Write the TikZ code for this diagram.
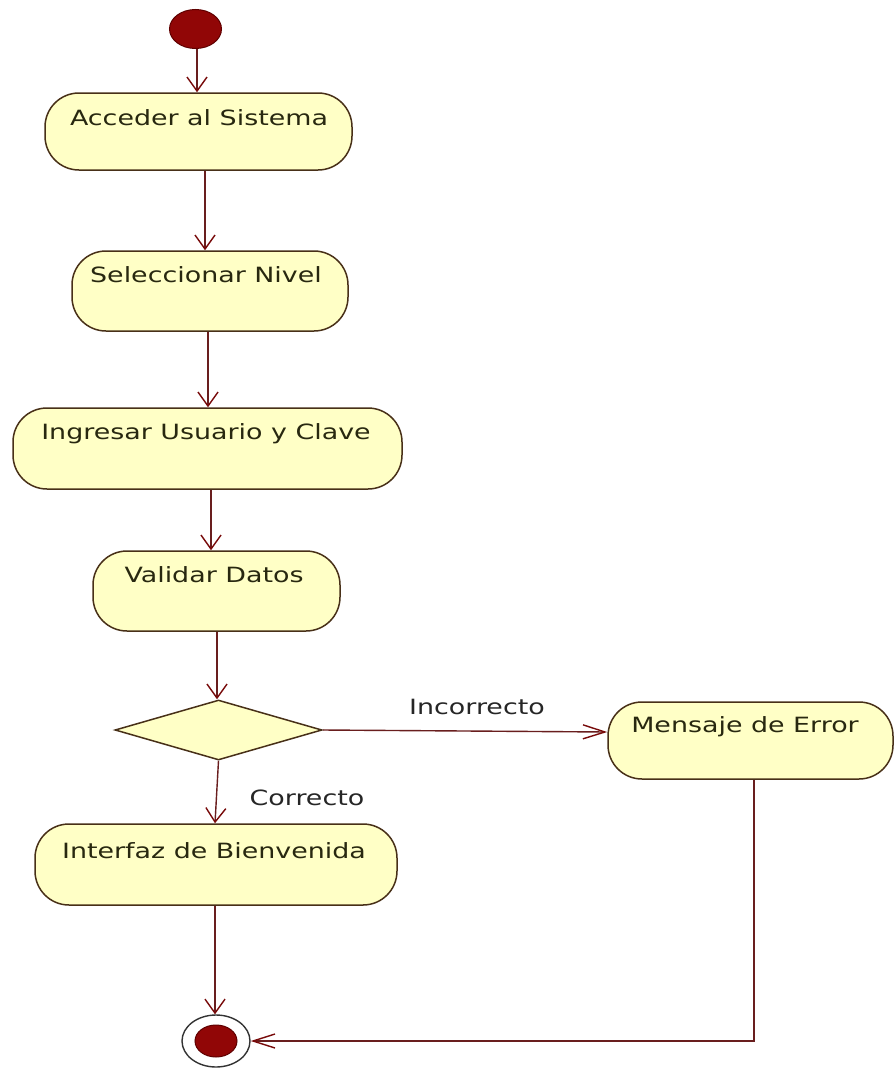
\documentclass[tikz,border=0pt]{standalone}
\usepackage{fontspec}
\setmainfont{DejaVu Sans}[FakeStretch=1.28]
\usetikzlibrary{arrows.meta,shapes.geometric}

\definecolor{actfill}{RGB}{255,255,198}
\definecolor{actline}{RGB}{72,48,24}
\definecolor{flowline}{RGB}{105,30,30}
\definecolor{tipcol}{RGB}{120,10,10}
\definecolor{dotfill}{RGB}{145,6,6}
\definecolor{dotline}{RGB}{95,0,0}
\definecolor{acttext}{RGB}{40,40,16}

\tikzset{
  act/.style={draw=actline, fill=actfill, line width=1.5pt, rounded corners=34pt,
    rectangle, inner sep=0pt},
  choice/.style={draw=actline, fill=actfill, line width=1.5pt, diamond, inner sep=0pt},
  acttxt/.style={anchor=base, inner sep=0pt, text=acttext, font=\fontsize{21}{24}\selectfont},
  guard/.style={anchor=base, inner sep=0pt, text=black!85, font=\fontsize{21}{24}\selectfont},
  vflow/.style={draw=flowline, line width=1.4pt,
    -{Straight Barb[length=14pt,width=20pt,line width=1.4pt,color=tipcol]}},
  hflow/.style={draw=flowline, line width=1.4pt,
    -{Straight Barb[length=22pt,width=14pt,line width=1.4pt,color=tipcol]}},
  startdot/.style={ellipse, fill=dotfill, draw=dotline, line width=1pt, inner sep=0pt},
  endring/.style={ellipse, draw=black!80, fill=white, line width=1.4pt, inner sep=0pt},
}

\begin{document}
\begin{tikzpicture}[x=1pt,y=-1pt]
\useasboundingbox[fill=white] (0,0) rectangle (896,1068);

% start and end states
\node[startdot, minimum width=52pt, minimum height=39pt] (s) at (195.5,29) {};
\node[endring, minimum width=68pt, minimum height=52pt] (e) at (216,1041) {};
\node[startdot, minimum width=42pt, minimum height=32pt] (ei) at (216,1041) {};

% activities
\node[act, minimum width=307pt, minimum height=77pt] (b1) at (198.5,131.5) {};
\node[acttxt] (t1) at (199,125) {Acceder al Sistema};

\node[act, minimum width=276pt, minimum height=80pt] (b2) at (210,291) {};
\node[acttxt] (t2) at (206,282) {Seleccionar Nivel};

\node[act, minimum width=389pt, minimum height=81pt] (b3) at (207.5,448.5) {};
\node[acttxt] (t3) at (206,439) {Ingresar Usuario y Clave};

\node[act, minimum width=247pt, minimum height=80pt] (b4) at (216.5,591) {};
\node[acttxt] (t4) at (214,582) {Validar Datos};

\node[choice, minimum width=207pt, minimum height=60pt] (d) at (218.5,730) {};

\node[act, minimum width=285pt, minimum height=77pt] (m) at (750.5,740.5) {};
\node[acttxt] (tm) at (745,732) {Mensaje de Error};

\node[act, minimum width=362pt, minimum height=81pt] (w) at (216,864.5) {};
\node[acttxt] (tw) at (214,858) {Interfaz de Bienvenida};

% guards
\node[guard] (gi) at (477,714) {Incorrecto};
\node[guard] (gc) at (307,805) {Correcto};

% transitions
\draw[vflow] ([xshift=1.5pt]s.south) -- ([xshift=-1.5pt]b1.north);
\draw[vflow] ([xshift=6.5pt]b1.south) -- ([xshift=-5pt]b2.north);
\draw[vflow] ([xshift=-2pt]b2.south) -- ([xshift=0.5pt]b3.north);
\draw[vflow] ([xshift=3.5pt]b3.south) -- ([xshift=-5.5pt]b4.north);
\draw[vflow] ([xshift=0.5pt]b4.south) -- ([xshift=-1.5pt]d.north);
\draw[hflow] (d.east) -- ([yshift=8.5pt]m.west);
\draw[vflow] (d.south) -- ([xshift=-1pt]w.north);
\draw[vflow] ([xshift=-1pt]w.south) -- ([xshift=-1pt]e.north);
\draw[hflow] ([xshift=3.5pt]m.south) |- (e.east);
\end{tikzpicture}
\end{document}
